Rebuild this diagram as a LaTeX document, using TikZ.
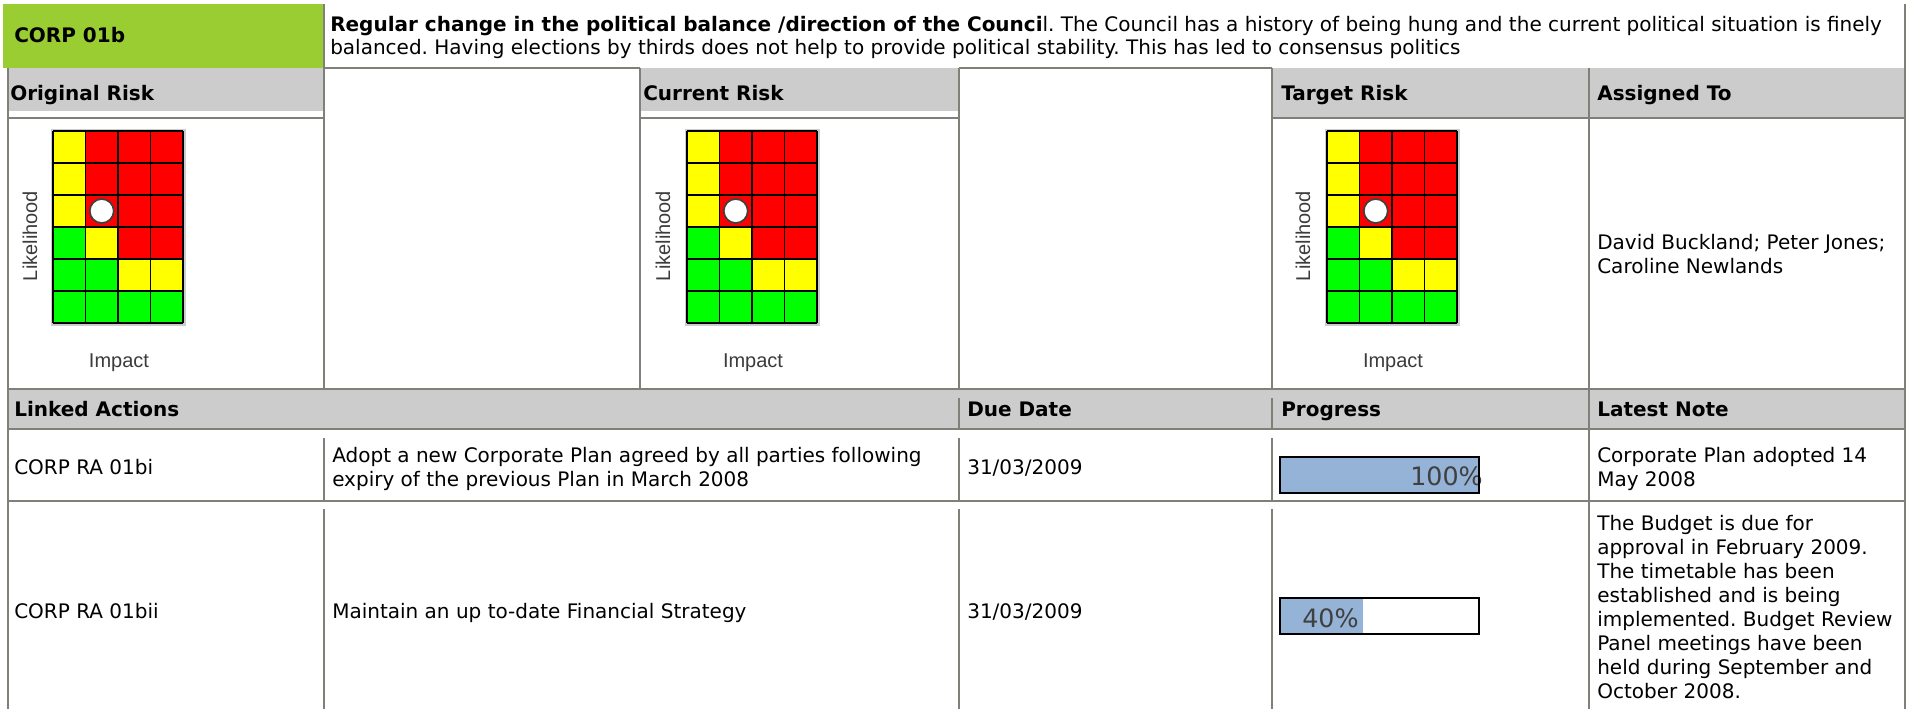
\documentclass[tikz,border=0pt]{standalone}
\usepackage{fontspec}
\setmainfont{DejaVu Sans}
\newfontfamily\lblfont{Liberation Sans}
\frenchspacing
\definecolor{hdrgray}{RGB}{204,204,204}
\definecolor{corpgreen}{RGB}{154,205,50}
\definecolor{linegray}{RGB}{128,128,120}
\definecolor{barblue}{RGB}{149,179,215}
\definecolor{rmY}{RGB}{255,255,0}
\definecolor{rmR}{RGB}{255,0,0}
\definecolor{rmG}{RGB}{0,255,0}
\definecolor{lbltext}{RGB}{60,60,60}
\definecolor{bartext}{RGB}{64,64,64}
\begin{document}
\begin{tikzpicture}[x=0.75pt,y=-0.75pt,
  txt/.style={anchor=base west, inner sep=0pt, font=\fontsize{15pt}{18pt}\selectfont},
  hdr/.style={anchor=base west, inner sep=0pt, font=\fontsize{15pt}{18pt}\selectfont\bfseries},
  rule/.style={draw=linegray, line width=1.1pt},
  lbl/.style={inner sep=0pt, font=\lblfont\fontsize{15pt}{18pt}\selectfont, text=lbltext},
  pct/.style={inner sep=0pt, font=\fontsize{19pt}{22pt}\selectfont, text=bartext},
  bar/.style={draw=black, line width=1.5pt},
  riskmat/.pic={
    \fill[gray!40] (-2,-2) rectangle (132.5,194.5);
    \foreach \cl [count=\k from 0] in {rmY,rmR,rmR,rmR,rmY,rmR,rmR,rmR,rmY,rmR,rmR,rmR,rmG,rmY,rmR,rmR,rmG,rmG,rmY,rmY,rmG,rmG,rmG,rmG}{
      \pgfmathtruncatemacro\cc{mod(\k,4)}
      \pgfmathtruncatemacro\rr{div(\k,4)}
      \fill[fill=\cl] (\cc*32.5,\rr*32) rectangle ++(32.5,32);
    }
    \foreach \i in {0,...,4} \draw[black, line width=1.4pt] (\i*32.5,0) -- (\i*32.5,192);
    \foreach \j in {0,...,6} \draw[black, line width=1.4pt] (0,\j*32) -- (130,\j*32);
    \draw[fill=white, draw=black!75, line width=1.3pt] (48.75,80) circle[radius=12];
  }
]
% page
\path[fill=white, use as bounding box] (0,0) rectangle (1916,709);

% fills
\fill[corpgreen] (3,4) rectangle (324,68);
\fill[hdrgray] (8,68) rectangle (324,111);
\fill[hdrgray] (640,68) rectangle (959,111);
\fill[hdrgray] (1272,68) rectangle (1905,118);
\fill[hdrgray] (8,389) rectangle (1905,429);

% vertical rules
\draw[rule] (8,68) -- (8,709);
\draw[rule] (324,4) -- (324,389);
\draw[rule] (640,68) -- (640,389);
\draw[rule] (959,68) -- (959,389);
\draw[rule] (1272,68) -- (1272,389);
\draw[rule] (1589,68) -- (1589,709);
\draw[rule] (1905,4) -- (1905,709);
\foreach \xx in {959,1272}{
  \draw[rule] (\xx,398) -- (\xx,429);
}
\foreach \xx in {324,959,1272}{
  \draw[rule] (\xx,438) -- (\xx,501);
  \draw[rule] (\xx,509) -- (\xx,709);
}
% horizontal rules
\draw[rule] (324,68) -- (640,68);
\draw[rule] (959,68) -- (1272,68);
\draw[rule] (8,118) -- (324,118);
\draw[rule] (640,118) -- (959,118);
\draw[rule] (1272,118) -- (1905,118);
\draw[rule] (8,389) -- (1905,389);
\draw[rule] (8,429) -- (1905,429);
\draw[rule] (8,501) -- (1905,501);

% title row
\node[hdr] (code) at (14,43) {CORP 01b};
\node[txt] (desc1) at (330,32) {\textbf{Regular change in the political balance /direction of the Counci}l. The Council has a history of being hung and the current political situation is finely};
\node[txt] (desc2) at (330,55) {balanced. Having elections by thirds does not help to provide political stability. This has led to consensus politics};

% risk headers
\node[hdr] (orig) at (10,101) {Original Risk};
\node[hdr] (curr) at (643,101) {Current Risk};
\node[hdr] (targ) at (1281,101) {Target Risk};
\node[hdr] (assg) at (1597,101) {Assigned To};

% matrices
\pic (mA) at (53,131) {riskmat};
\pic (mB) at (687,131) {riskmat};
\pic (mC) at (1327,131) {riskmat};
\node[lbl, rotate=90] (lkA) at (30,236) {Likelihood};
\node[lbl, rotate=90] (lkB) at (663,236) {Likelihood};
\node[lbl, rotate=90] (lkC) at (1303,236) {Likelihood};
\node[lbl] (imA) at (119,363) {Impact};
\node[lbl] (imB) at (753,363) {Impact};
\node[lbl] (imC) at (1393,363) {Impact};

\node[txt] (who1) at (1597,250) {David Buckland; Peter Jones;};
\node[txt] (who2) at (1597,274) {Caroline Newlands};

% actions header
\node[hdr] (lnk) at (14,416) {Linked Actions};
\node[hdr] (due) at (967,416) {Due Date};
\node[hdr] (prg) at (1281,416) {Progress};
\node[hdr] (lat) at (1597,416) {Latest Note};

% row 1
\node[txt] (r1a) at (14,474) {CORP RA 01bi};
\node[txt] (r1b1) at (332,462) {Adopt a new Corporate Plan agreed by all parties following};
\node[txt] (r1b2) at (332,486) {expiry of the previous Plan in March 2008};
\node[txt] (r1c) at (967,474) {31/03/2009};
\fill[barblue] (1280,457) rectangle (1479,493);
\node[pct, anchor=base east] (p1) at (1483,485) {100\%};
\draw[bar] (1280,457) rectangle (1479,493);
\node[txt] (r1e1) at (1597,462) {Corporate Plan adopted 14};
\node[txt] (r1e2) at (1597,486) {May 2008};

% row 2
\node[txt] (r2a) at (14,618) {CORP RA 01bii};
\node[txt] (r2b) at (332,618) {Maintain an up to-date Financial Strategy};
\node[txt] (r2c) at (967,618) {31/03/2009};
\fill[barblue] (1280,598) rectangle (1363,634);
\node[pct, anchor=base west] (p2) at (1302,627) {40\%};
\draw[bar] (1280,598) rectangle (1479,634);
\foreach \ln [count=\n from 0] in {The Budget is due for,approval in February 2009.,The timetable has been,established and is being,implemented. Budget Review,Panel meetings have been,held during September and,October 2008.}{
  \node[txt] (note\n) at (1597,530+24.1*\n) {\ln};
}
\end{tikzpicture}
\end{document}
